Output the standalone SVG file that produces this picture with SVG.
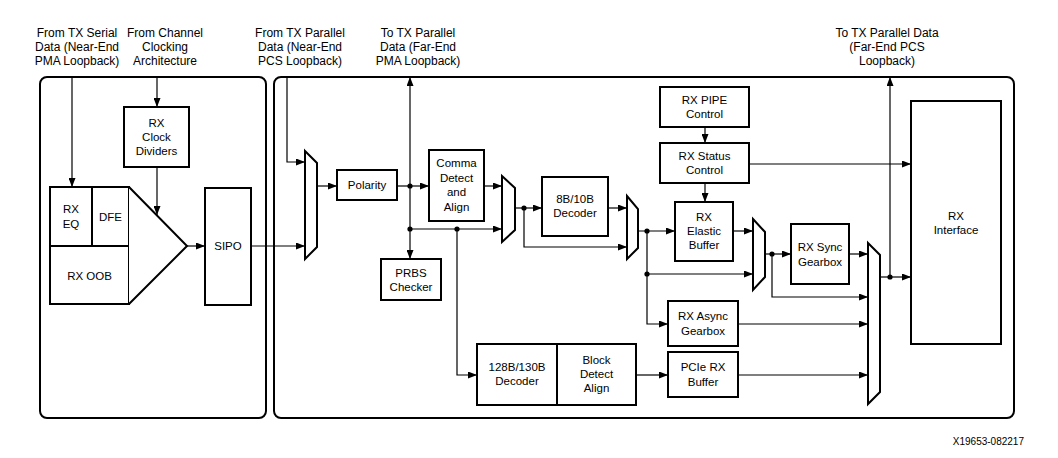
<svg xmlns="http://www.w3.org/2000/svg" width="1058" height="458" viewBox="0 0 1058 458">
<defs>
<marker id="ah" markerUnits="userSpaceOnUse" markerWidth="9" markerHeight="7" refX="9" refY="3.5" orient="auto">
<path d="M0,0 L9,3.5 L0,7 z" fill="#000"/>
</marker>
<style>
text{font-family:"Liberation Sans",Arial,sans-serif;font-size:11.5px;fill:#000;text-anchor:middle}
.lbl{font-size:12px}
.ft{font-size:10px;text-anchor:end}
.box{fill:#fff;stroke:#000;stroke-width:2}
.outer{fill:none;stroke:#000;stroke-width:2}
.c{fill:none;stroke:#000;stroke-width:1.2}
.a{marker-end:url(#ah)}
.dot{fill:#000}
</style>
</defs>
<rect width="1058" height="458" fill="#fff"/>
<rect class="outer" x="40" y="77" width="226" height="341" rx="7"/>
<rect class="outer" x="274" y="77" width="740" height="341" rx="7"/>

<g id="labels">
<text class="lbl" x="77" y="37">From TX Serial</text>
<text class="lbl" x="77" y="51">Data (Near-End</text>
<text class="lbl" x="77" y="65">PMA Loopback)</text>
<text class="lbl" x="165" y="37">From Channel</text>
<text class="lbl" x="165" y="51">Clocking</text>
<text class="lbl" x="165" y="65">Architecture</text>
<text class="lbl" x="300" y="37">From TX Parallel</text>
<text class="lbl" x="300" y="51">Data (Near-End</text>
<text class="lbl" x="300" y="65">PCS Loopback)</text>
<text class="lbl" x="418" y="37">To TX Parallel</text>
<text class="lbl" x="418" y="51">Data (Far-End</text>
<text class="lbl" x="418" y="65">PMA Loopback)</text>
<text class="lbl" x="887" y="37">To TX Parallel Data</text>
<text class="lbl" x="887" y="51">(Far-End PCS</text>
<text class="lbl" x="887" y="65">Loopback)</text>
<text class="ft" x="1024" y="445">X19653-082217</text>
</g>

<g id="connectors">
<path class="c a" d="M72,77 V187"/>
<path class="c a" d="M157,77 V107"/>
<path class="c a" d="M157,167 V215"/>
<path class="c a" d="M187,246 H205"/>
<path class="c a" d="M251,246 H305"/>
<path class="c a" d="M287,77 V162 H305"/>
<path class="c a" d="M317,186 H337"/>
<path class="c a" d="M397,186 H429"/>
<path class="c a" d="M410,186 V77"/>
<path class="c a" d="M410,186 V259"/>
<path class="c a" d="M410,229 H502"/>
<path class="c a" d="M457,229 V375 H477"/>
<path class="c a" d="M484,186 H502"/>
<path class="c a" d="M515,208 H542"/>
<path class="c a" d="M524,208 V247 H627"/>
<path class="c a" d="M608,208 H627"/>
<path class="c a" d="M638,231 H675"/>
<path class="c a" d="M647,231 V324 H668"/>
<path class="c a" d="M647,274 H753"/>
<path class="c a" d="M733,231 H753"/>
<path class="c a" d="M705,127 V143"/>
<path class="c a" d="M705,183 V202"/>
<path class="c a" d="M749,164 H911"/>
<path class="c a" d="M765,254 H791"/>
<path class="c a" d="M772,254 V297 H868"/>
<path class="c a" d="M849,254 H868"/>
<path class="c a" d="M738,324 H868"/>
<path class="c a" d="M738,375 H868"/>
<path class="c a" d="M636,375 H668"/>
<path class="c a" d="M880,277 H911"/>
<path class="c a" d="M890,277 V77"/>
<circle class="dot" cx="410" cy="186" r="2.6"/>
<circle class="dot" cx="410" cy="229" r="2.6"/>
<circle class="dot" cx="457" cy="229" r="2.6"/>
<circle class="dot" cx="524" cy="208" r="2.6"/>
<circle class="dot" cx="647" cy="231" r="2.6"/>
<circle class="dot" cx="647" cy="274" r="2.6"/>
<circle class="dot" cx="772" cy="254" r="2.6"/>
<circle class="dot" cx="890" cy="277" r="2.6"/>
</g>

<g id="rx-clock-dividers">
<rect class="box" x="124" y="107" width="65" height="60"/>
<text x="156.5" y="127">RX</text>
<text x="156.5" y="141">Clock</text>
<text x="156.5" y="155">Dividers</text>
</g>
<g id="rx-eq">
<rect class="box" x="50" y="187" width="42" height="59"/>
<text x="71" y="213">RX</text>
<text x="71" y="228">EQ</text>
</g>
<g id="dfe">
<rect class="box" x="92" y="187" width="37" height="59"/>
<text x="110.5" y="221">DFE</text>
</g>
<g id="rx-oob">
<rect class="box" x="50" y="246" width="79" height="58"/>
<text x="89.5" y="280">RX OOB</text>
</g>
<g id="amp">
<path class="box" d="M129,187 L187,246 L129,304"/>
</g>
<g id="sipo">
<rect class="box" x="205" y="188" width="46" height="117"/>
<text x="228" y="250">SIPO</text>
</g>
<g id="mux1">
<path class="box" d="M305,151 L317,163 L317,247 L305,259 Z"/>
</g>
<g id="polarity">
<rect class="box" x="337" y="170" width="60" height="30"/>
<text x="367" y="189">Polarity</text>
</g>
<g id="comma-detect">
<rect class="box" x="429" y="150" width="55" height="71"/>
<text x="456.5" y="167">Comma</text>
<text x="456.5" y="182">Detect</text>
<text x="456.5" y="196">and</text>
<text x="456.5" y="211">Align</text>
</g>
<g id="prbs-checker">
<rect class="box" x="381" y="259" width="60" height="41"/>
<text x="411" y="277">PRBS</text>
<text x="411" y="291">Checker</text>
</g>
<g id="mux2">
<path class="box" d="M502,176 L515,188 L515,230 L502,242 Z"/>
</g>
<g id="dec-8b10b">
<rect class="box" x="542" y="177" width="66" height="59"/>
<text x="575" y="203">8B/10B</text>
<text x="575" y="217">Decoder</text>
</g>
<g id="mux3">
<path class="box" d="M627,196 L638,209 L638,248 L627,259 Z"/>
</g>
<g id="rx-pipe-control">
<rect class="box" x="660" y="87" width="89" height="40"/>
<text x="704.5" y="104">RX PIPE</text>
<text x="704.5" y="118">Control</text>
</g>
<g id="rx-status-control">
<rect class="box" x="660" y="143" width="89" height="40"/>
<text x="704.5" y="160">RX Status</text>
<text x="704.5" y="174">Control</text>
</g>
<g id="rx-elastic-buffer">
<rect class="box" x="675" y="202" width="58" height="59"/>
<text x="704" y="221">RX</text>
<text x="704" y="235">Elastic</text>
<text x="704" y="249">Buffer</text>
</g>
<g id="mux4">
<path class="box" d="M753,219 L765,232 L765,277 L753,290 Z"/>
</g>
<g id="rx-sync-gearbox">
<rect class="box" x="791" y="224" width="58" height="60"/>
<text x="820" y="251">RX Sync</text>
<text x="820" y="266">Gearbox</text>
</g>
<g id="rx-async-gearbox">
<rect class="box" x="668" y="301" width="70" height="45"/>
<text x="703" y="320">RX Async</text>
<text x="703" y="335">Gearbox</text>
</g>
<g id="pcie-rx-buffer">
<rect class="box" x="668" y="352" width="70" height="45"/>
<text x="703" y="371">PCIe RX</text>
<text x="703" y="386">Buffer</text>
</g>
<g id="dec-128b130b">
<rect class="box" x="477" y="344" width="80" height="61"/>
<text x="517" y="371">128B/130B</text>
<text x="517" y="385">Decoder</text>
</g>
<g id="block-detect-align">
<rect class="box" x="557" y="344" width="79" height="61"/>
<text x="596.5" y="364">Block</text>
<text x="596.5" y="378">Detect</text>
<text x="596.5" y="392">Align</text>
</g>
<g id="mux5">
<path class="box" d="M868,243 L880,255 L880,392 L868,404 Z"/>
</g>
<g id="rx-interface">
<rect class="box" x="911" y="101" width="90" height="243"/>
<text x="956" y="220">RX</text>
<text x="956" y="234">Interface</text>
</g>
</svg>
